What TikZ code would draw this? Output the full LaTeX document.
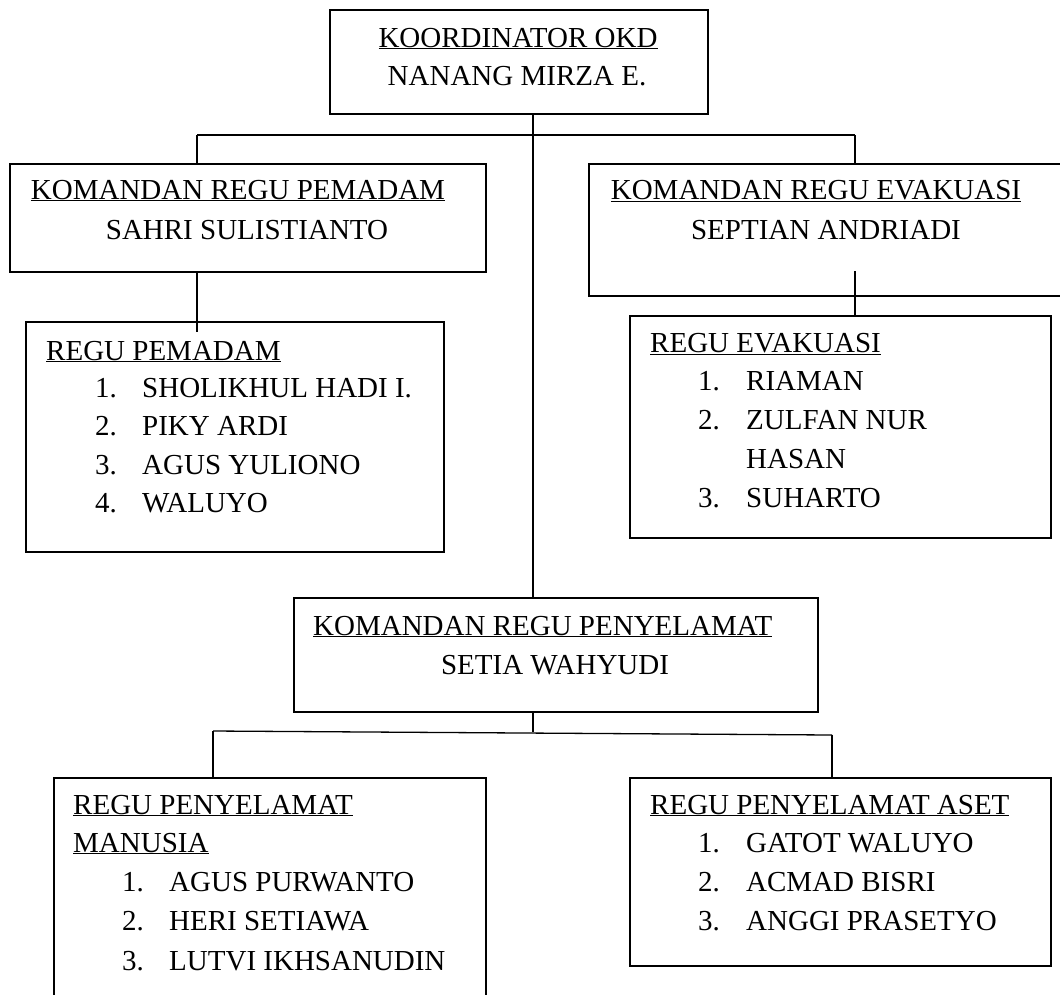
\documentclass[tikz,border=0pt]{standalone}
\usepackage{fontspec}
\setmainfont{Liberation Serif}
\begin{document}
\begin{tikzpicture}[x=1pt,y=-1pt,
 box/.style={draw, line width=1.7pt, inner sep=0pt, anchor=north west},
 txt/.style={inner sep=0pt, font=\fontsize{29}{38}\selectfont},
 tl/.style={txt, anchor=base west},
 tc/.style={txt, anchor=base},
 ln/.style={line width=1.3pt}]
\clip (0,0) rectangle (1060,994);
% boxes
\node[box, minimum width=378pt, minimum height=104pt] (top) at (329,9) {};
\node[box, minimum width=476pt, minimum height=108pt] (kp) at (9,163) {};
\node[box, minimum width=480pt, minimum height=132pt] (ke) at (588,163) {};
\node[box, minimum width=418pt, minimum height=230pt] (rp) at (25,321) {};
\node[box, minimum width=421pt, minimum height=222pt] (re) at (629,315) {};
\node[box, minimum width=524pt, minimum height=114pt] (pen) at (293,597) {};
\node[box, minimum width=432pt, minimum height=240pt] (rm) at (53,777) {};
\node[box, minimum width=421pt, minimum height=188pt] (ra) at (629,777) {};
% connectors
\coordinate (jA) at (533,135);
\coordinate (jL) at (197,135);
\coordinate (jR) at (855,135);
\coordinate (pIn) at (197,332);
\coordinate (eIn) at (855,271);
\coordinate (jB) at (533,732);
\coordinate (jBL) at (213,731);
\coordinate (jBR) at (832,735);
\draw[ln] (top.south -| jA) -- (pen.north -| jA);
\draw[ln] (jL) -- (jR);
\draw[ln] (jL) -- (kp.north -| jL);
\draw[ln] (jR) -- (ke.north -| jR);
\draw[ln] (kp.south -| pIn) -- (pIn);
\draw[ln] (eIn) -- (re.north -| eIn);
\draw[ln] (pen.south -| jB) -- (jB);
\draw[ln] (jBL) -- (jBR);
\draw[ln] (jBL) -- (rm.north -| jBL);
\draw[ln] (jBR) -- (ra.north -| jBR);
% top texts
\node[tc] (t1) at (518,47) {\underline{KOORDINATOR OKD}};
\node[tc] (t2) at (517,85) {NANANG MIRZA E.};
% komandan pemadam
\node[tc] (kp1) at (238,199) {\underline{KOMANDAN REGU PEMADAM}};
\node[tc] (kp2) at (247,239) {SAHRI SULISTIANTO};
% komandan evakuasi
\node[tc] (ke1) at (816,199) {\underline{KOMANDAN REGU EVAKUASI}};
\node[tc] (ke2) at (826,239) {SEPTIAN ANDRIADI};
% regu pemadam
\node[tl] (rp0) at (46,360) {\underline{REGU PEMADAM}};
\node[tl] (rpn1) at (95,397) {1.};
\node[tl] (rpa1) at (142,397) {SHOLIKHUL HADI I.};
\node[tl] (rpn2) at (95,435) {2.};
\node[tl] (rpa2) at (142,435) {PIKY ARDI};
\node[tl] (rpn3) at (95,474) {3.};
\node[tl] (rpa3) at (142,474) {AGUS YULIONO};
\node[tl] (rpn4) at (95,512) {4.};
\node[tl] (rpa4) at (142,512) {WALUYO};
% regu evakuasi
\node[tl] (re0) at (650,352) {\underline{REGU EVAKUASI}};
\node[tl] (ren1) at (698,390) {1.};
\node[tl] (rea1) at (746,390) {RIAMAN};
\node[tl] (ren2) at (698,429) {2.};
\node[tl] (rea2) at (746,429) {ZULFAN NUR};
\node[tl] (rea2b) at (746,468) {HASAN};
\node[tl] (ren3) at (698,507) {3.};
\node[tl] (rea3) at (746,507) {SUHARTO};
% komandan penyelamat
\node[tl] (pe1) at (313,635) {\underline{KOMANDAN REGU PENYELAMAT}};
\node[tc] (pe2) at (555,674) {SETIA WAHYUDI};
% regu penyelamat manusia
\node[tl] (rm0) at (73,814) {\underline{REGU PENYELAMAT}};
\node[tl] (rm0b) at (73,852) {\underline{MANUSIA}};
\node[tl] (rmn1) at (122,891) {1.};
\node[tl] (rma1) at (169,891) {AGUS PURWANTO};
\node[tl] (rmn2) at (122,930) {2.};
\node[tl] (rma2) at (169,930) {HERI SETIAWA};
\node[tl] (rmn3) at (122,970) {3.};
\node[tl] (rma3) at (169,970) {LUTVI IKHSANUDIN};
% regu penyelamat aset
\node[tl] (ra0) at (650,814) {\underline{REGU PENYELAMAT ASET}};
\node[tl] (ran1) at (698,852) {1.};
\node[tl] (raa1) at (746,852) {GATOT WALUYO};
\node[tl] (ran2) at (698,891) {2.};
\node[tl] (raa2) at (746,891) {ACMAD BISRI};
\node[tl] (ran3) at (698,930) {3.};
\node[tl] (raa3) at (746,930) {ANGGI PRASETYO};
\end{tikzpicture}
\end{document}
